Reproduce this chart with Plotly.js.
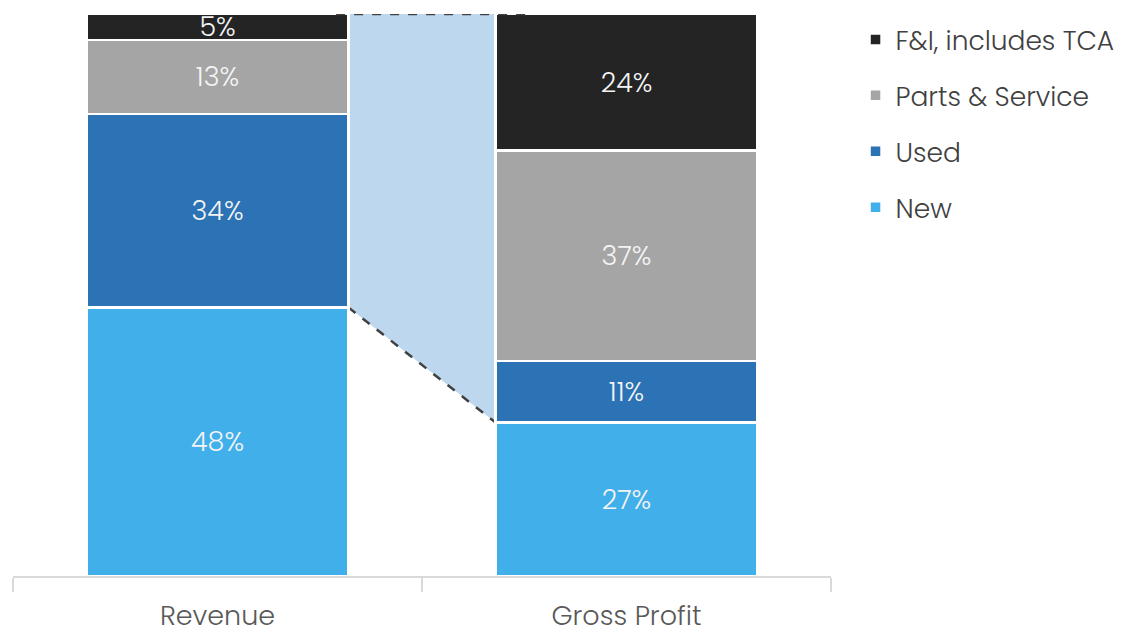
<!DOCTYPE html>
<html>
<head>
<meta charset="utf-8">
<script src="https://cdn.plot.ly/plotly-3.0.1.min.js"></script>
<style>html,body{margin:0;padding:0;background:#fff;}#chart{width:1135px;height:634px;}</style>
</head>
<body>
<div id="chart"></div>
<script>
const categories = ["Revenue", "Gross Profit"];
const seriesNames = ["New", "Used", "Parts & Service", "F&I, includes TCA"];
const newVals = [47.8, 27.3];
const usedVals = [34.4, 11.0];
const partsVals = [13.2, 37.4];
const fiVals = [4.6, 24.3];
const seriesColors = ["#41AFEA", "#2B73B5", "#A5A5A5", "#242424"];

const allVals = [newVals, usedVals, partsVals, fiVals];
const fontFam = "Poppins, 'Open Sans', sans-serif";

const traces = allVals.map((vals, i) => ({
  type: "bar",
  name: seriesNames[i],
  x: categories,
  y: vals,
  width: 0.64,
  legendgroup: "g" + i,
  legendrank: allVals.length - i,
  marker: {color: seriesColors[i], line: {color: "#ffffff", width: 2.5}},
  texttemplate: "%{y:.0f}%",
  textposition: "inside",
  insidetextanchor: "middle",
  textangle: 0,
  constraintext: "none",
  textfont: {color: "#F4F4F4", size: 27, family: fontFam, weight: 300},
  hoverinfo: "skip"
}));

const half = 0.32;
const total0 = allVals.reduce((s, a) => s + a[0], 0);
const x0 = 0 + half, x1 = 1 - half;
const yTop = total0;
const yLowL = newVals[0], yLowR = newVals[1];

const shapes = [
  {type: "path", xref: "x", yref: "y", layer: "below",
   path: `M ${x0},${yTop} L ${x1},${yTop} L ${x1},${yLowR} L ${x0},${yLowL} Z`,
   fillcolor: "#BDD7EE", line: {width: 0}},
  {type: "line", xref: "x", yref: "y", layer: "above",
   x0: x0 - 0.03, x1: x1 + 0.075, y0: yTop, y1: yTop,
   line: {color: "#404040", width: 2.5, dash: "dash"}},
  {type: "line", xref: "x", yref: "y", layer: "below",
   x0: x0, x1: x1, y0: yLowL, y1: yLowR,
   line: {color: "#404040", width: 2.5, dash: "dash"}}
];

const layout = {
  width: 1135, height: 634,
  margin: {l: 13, r: 304, t: 14, b: 58},
  paper_bgcolor: "#ffffff", plot_bgcolor: "#ffffff",
  barmode: "stack",
  bargap: 0,
  font: {family: fontFam, color: "#595959"},
  showlegend: true,
  legend: {x: 1.03, xanchor: "left", y: 0.997, yanchor: "top",
           traceorder: "grouped", tracegroupgap: 18.5,
           font: {size: 26.5, color: "#404040", family: fontFam, weight: 300}},
  xaxis: {type: "category", range: [-0.5, 1.5], showline: true, linecolor: "#D9D9D9", linewidth: 1.5,
          ticks: "outside", tickson: "boundaries", ticklen: 14, tickcolor: "#D9D9D9", tickwidth: 1.5,
          ticklabelstandoff: 15,
          tickfont: {size: 27, color: "#595959", family: fontFam, weight: 300}, showgrid: false, zeroline: false},
  yaxis: {range: [0, 100], visible: false, showgrid: false, zeroline: false},
  shapes: shapes
};

Plotly.newPlot("chart", traces, layout, {displayModeBar: false, staticPlot: true});
</script>
</body>
</html>
